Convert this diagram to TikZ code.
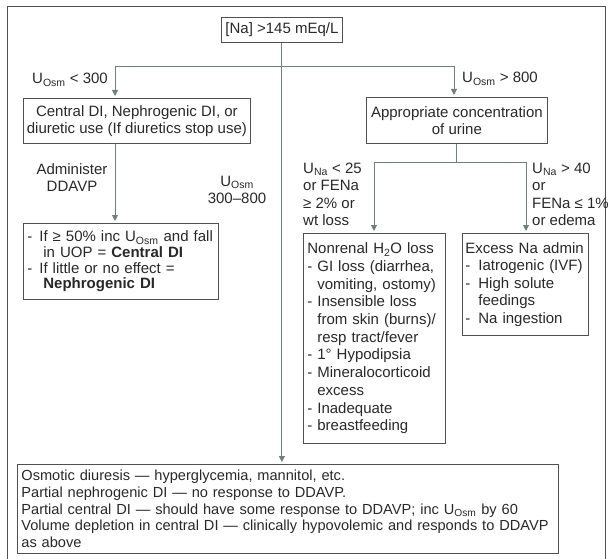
\documentclass[tikz,border=0pt]{standalone}
\usepackage{fontspec}
\setmainfont{Liberation Sans}
\usepackage{tikz}
\usetikzlibrary{arrows.meta,positioning}
\definecolor{flowline}{RGB}{112,128,126}
\definecolor{boxline}{RGB}{80,80,80}
\definecolor{txtgray}{RGB}{40,40,40}
\newcommand{\Uosm}{U\textsubscript{Osm}}
\newcommand{\Una}{U\textsubscript{Na}}
\newcommand{\flowitem}[1][10pt]{\makebox[#1][l]{-}}
\newcommand{\flowcont}[1][10pt]{\hspace*{#1}}

\begin{document}
\begin{tikzpicture}[x=1pt, y=-1pt,
  every node/.style={font=\fontsize{15}{17}\selectfont, text=txtgray},
  flowbox/.style={draw=boxline, line width=0.8pt, anchor=north west,
    inner xsep=4pt, inner ysep=2pt, align=left},
  lbl/.style={inner sep=0pt, align=center},
  conn/.style={draw=flowline, line width=0.9pt},
  arr/.style={conn, -{Triangle[length=6pt, width=6pt]}, shorten >=2pt}]
\useasboundingbox (0,0) rectangle (608,559);
% Frame
\draw[draw=boxline, line width=1pt] (7,559) -- (7,7) -- (605,7) -- (605,559);
% Nodes
\node[flowbox, align=center, minimum width=121pt, minimum height=25pt] (na) at (221,17) {[Na] >145 mEq/L};
\node[flowbox, align=center, inner xsep=2pt, minimum width=227pt, minimum height=45pt] (cdi) at (23,98)
  {Central DI, Nephrogenic DI, or\\diuretic use (If diuretics stop use)};
\node[flowbox, align=center, minimum width=181pt, minimum height=46pt] (app) at (366,97)
  {Appropriate concentration\\of urine};
\node[flowbox, text width=187pt, minimum height=76pt, font=\fontsize{15}{15.7}\selectfont] (res) at (23,223)
  {\flowitem[12pt]If ≥ 50\% inc \Uosm\ and fall\\
   \flowcont[16pt]in UOP = \textbf{Central DI}\\
   \flowitem[12pt]If little or no effect =\\
   \flowcont[16pt]\textbf{Nephrogenic DI}};
\node[flowbox, text width=134pt, minimum height=210pt, font=\fontsize{15}{17.7}\selectfont] (nonren) at (303,233)
  {Nonrenal H\textsubscript{2}O loss\\
   \flowitem GI loss (diarrhea,\\
   \flowcont vomiting, ostomy)\\
   \flowitem Insensible loss\\
   \flowcont from skin (burns)/\\
   \flowcont resp tract/fever\\
   \flowitem 1° Hypodipsia\\
   \flowitem Mineralocorticoid\\
   \flowcont excess\\
   \flowitem Inadequate\\
   \flowitem breastfeeding};
\node[flowbox, inner xsep=3pt, text width=120pt, minimum height=102pt, font=\fontsize{15}{17.5}\selectfont] (excess) at (462,233)
  {\mbox{Excess Na admin}\\
   \flowitem[13pt]Iatrogenic (IVF)\\
   \flowitem[13pt]High solute\\
   \flowcont[13pt]feedings\\
   \flowitem[13pt]Na ingestion};
\node[flowbox, text width=533pt, minimum height=89pt, font=\fontsize{14.6}{16.7}\selectfont] (bot) at (17,464)
  {Osmotic diuresis — hyperglycemia, mannitol, etc.\\
   Partial nephrogenic DI — no response to DDAVP.\\
   Partial central DI — should have some response to DDAVP; inc \Uosm\ by 60\\
   Volume depletion in central DI — clinically hypovolemic and responds to DDAVP\\
   as above};
% Labels
\node[lbl, anchor=east] (lo) at (108,80) {\Uosm\ < 300};
\node[lbl, anchor=west] (hi) at (462,79) {\Uosm\ > 800};
\node[lbl] (dd) at (72,178) {Administer\\DDAVP};
\node[lbl] (mid) at (237,190) {\Uosm\\300–800};
\node[lbl, anchor=north west, align=left, font=\fontsize{15}{17.3}\selectfont] (lowna) at (303,163)
  {\Una\ < 25\\or FENa\\≥ 2\% or\\wt loss};
\node[lbl, anchor=north west, align=left, font=\fontsize{15}{17.3}\selectfont] (highna) at (532,163)
  {\Una\ > 40\\or\\FENa ≤ 1\%\\or edema};
% Branch points
\coordinate (brL) at (115,66);
\coordinate (brR) at (454,66);
\coordinate (subL) at (374,162);
\coordinate (subR) at (526,162);
% Arrows
\draw[arr] (na.south) -- (na.south |- bot.north);
\draw[conn] (brL) -- (brR);
\draw[arr] (brL) -- (brL |- cdi.north);
\draw[arr] (brR) -- (brR |- app.north);
\draw[arr] (brL |- cdi.south) -- (brL |- res.north);
\draw[conn] (app.south) -- (app.south |- subL);
\draw[conn] (subL) -- (subR);
\draw[arr] (subL) -- (subL |- nonren.north);
\draw[arr] (subR) -- (subR |- excess.north);
\end{tikzpicture}
\end{document}
